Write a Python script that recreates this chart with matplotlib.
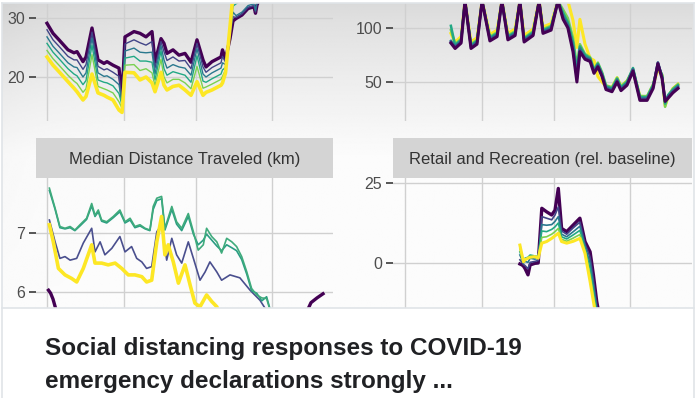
import numpy as np
import matplotlib
matplotlib.use("Agg")
import matplotlib.pyplot as plt
from matplotlib.lines import Line2D

plt.rcParams["font.family"] = ["Liberation Sans", "DejaVu Sans"]

W, H = 700, 398

# viridis steps used for the six groups
purple, blue, teal, green, lgreen, yellow = "#440154", "#414487", "#2A788E", "#22A884", "#7AD151", "#FDE725"

grid_days = [0, 25.5, 49.5, 75]

# ---- top-left panel (title cropped) ----
tl_day = [0, 2, 4, 7, 9, 10, 12, 13, 15, 17, 19, 20, 22, 24, 25, 26, 29, 31, 33, 35, 36, 38,
          39, 40, 42, 44, 46, 48, 50, 52, 53, 55, 58, 58.5, 59.5, 61, 62, 63, 65, 67, 69, 69.5, 70, 72]
tl_p = [29.1, 27.4, 26.3, 24.6, 24.1, 24.3, 22.6, 23.4, 28.3, 22.9, 22.3, 22.6, 22.0, 21.5, 16.6,
        26.8, 27.7, 27.4, 26.8, 27.7, 22.5, 26.5, 25.7, 24.0, 24.6, 23.7, 24.0, 22.5, 26.3, 22.9,
        21.7, 22.6, 23.4, 24.6, 23.0, 26.5, 29.5, 29.9, 30.5, 31.6, 31.9, 30.8, 32.2, 34.5]
tl_b = [28.0, 26.3, 25.2, 23.5, 22.9, 22.9, 21.3, 22.1, 27.6, 21.8, 21.2, 21.4, 20.8, 20.1, 16.1,
        25.6, 26.3, 25.8, 25.4, 26.0, 21.5, 26.0, 24.3, 22.8, 23.4, 22.7, 22.8, 21.4, 25.7, 21.7,
        20.8, 21.6, 22.4, 23.5, 22.5, 27.0, 30.2, 30.1, 30.7, 31.8, 32.1, 31.0, 32.4, 34.7]
tl_t = [26.8, 25.2, 24.1, 22.4, 21.7, 21.6, 20.0, 20.7, 26.6, 20.7, 20.1, 20.2, 19.6, 18.7, 15.6,
        24.4, 24.9, 24.2, 24.1, 24.2, 20.5, 25.3, 22.9, 21.5, 22.1, 21.7, 21.5, 20.3, 24.8, 20.5,
        20.0, 20.7, 21.5, 22.4, 22.1, 27.4, 31.0, 30.4, 31.0, 32.1, 32.4, 31.3, 32.7, 35.0]
tl_g = [25.7, 24.2, 23.1, 21.4, 20.5, 20.2, 18.7, 19.4, 25.4, 19.5, 19.1, 19.0, 18.5, 17.2, 15.2,
        23.2, 23.5, 22.7, 22.7, 22.5, 19.5, 24.4, 21.4, 20.3, 20.9, 20.6, 20.3, 19.1, 23.6, 19.3,
        19.1, 19.7, 20.5, 21.2, 21.6, 27.8, 32.0, 32.4, 33.0, 34.1, 34.4, 33.3, 34.7, 37.0]
tl_lg = [24.5, 23.1, 22.0, 20.3, 19.3, 18.9, 17.4, 18.0, 23.8, 18.4, 18.0, 17.8, 17.3, 15.8, 14.7,
         22.0, 22.1, 21.1, 21.4, 20.7, 18.5, 23.0, 20.0, 19.0, 19.6, 19.6, 19.0, 18.0, 21.8, 18.1,
         18.3, 18.8, 19.6, 20.1, 21.2, 28.2, 33.0, 33.9, 34.5, 35.6, 35.9, 34.8, 36.2, 38.5]
tl_y = [23.4, 22.0, 20.9, 19.2, 18.1, 17.5, 16.1, 16.7, 20.5, 17.3, 16.9, 16.6, 16.1, 14.4, 14.0,
        20.8, 20.7, 19.5, 20.0, 19.0, 17.5, 20.8, 18.6, 17.8, 18.4, 18.6, 17.8, 16.9, 19.2, 16.9,
        17.4, 17.8, 18.6, 19.0, 20.7, 28.5, 34.0, 35.5, 36.5, 37.5, 38.0, 38.0, 38.5, 39.0]

# ---- top-right panel (title cropped) ----
tr_day = [15.3, 16.7, 18.7, 20, 22, 24, 25.7, 28.3, 30.7, 32.3, 34.3, 36.7, 38.3, 39.7, 42.7,
          44.7, 46, 48.7, 51, 52.7, 54.3, 56, 57.3, 58.3, 60, 61.7, 63, 64.3, 65.7, 67, 69,
          70.7, 72, 74, 76, 78.3, 80.7, 82.7, 84.3, 85.7, 86.7, 87.7, 89.3, 91]
tr_p = [86, 81, 86, 125, 81, 85, 125, 88, 92, 125, 89, 93, 125, 87, 93, 125, 95, 98, 125, 108,
        100, 78, 50, 78, 71, 69, 58, 64, 55, 43, 41, 50, 42, 47, 60, 33, 33, 44, 67, 53, 32, 35, 40, 44]
tr_b = [87, 82, 87, 125, 82, 86, 125, 89, 93, 125, 90, 94, 125, 88, 94, 125, 96, 99, 125, 109,
        101, 80, 53, 79, 72, 70, 59, 65, 56, 44, 42, 51, 43, 48, 61, 34, 34, 45, 68, 54, 33, 36, 41, 45]
tr_t = [88, 83, 88, 125, 83, 87, 125, 90, 94, 125, 91, 95, 125, 89, 95, 125, 97, 100, 125, 111,
        103, 83, 57, 81, 73, 71, 60, 66, 57, 45, 43, 52, 44, 49, 62, 35, 35, 46, 68, 55, 33, 37, 42, 46]
tr_g = [102, 84, 89, 125, 84, 88, 125, 91, 95, 125, 92, 96, 125, 90, 96, 125, 98, 101, 125, 114,
        105, 87, 61, 83, 75, 72, 61, 67, 58, 46, 44, 53, 45, 50, 63, 36, 36, 47, 66, 56, 30, 38, 43, 47]
tr_lg = [98, 85, 90, 125, 85, 89, 125, 92, 96, 125, 93, 97, 125, 91, 97, 125, 99, 102, 125, 117,
         109, 91, 65, 85, 76, 73, 62, 68, 59, 47, 45, 54, 46, 51, 62, 37, 37, 48, 64, 57, 27, 37, 44, 48]
tr_y = [95, 87, 92, 125, 87, 91, 125, 94, 98, 125, 95, 99, 125, 93, 99, 125, 101, 104, 125, 125,
        125, 107, 82, 108, 85, 72, 70, 55, 50, 46, 45, 54, 46, 51, 60, 37, 36, 47, 62, 56, 28, 36, 44, 48]

# ---- Median Distance Traveled (km) ----
bl_p_day = [0.5, 1.2, 2, 3, 5, 20, 50, 80, 86, 88, 90, 92]
bl_p = [6.03, 5.98, 5.88, 5.7, 5.45, 5.3, 5.2, 5.3, 5.6, 5.82, 5.9, 5.97]
bl_b_day = [0.8, 2.7, 4.3, 6, 7.7, 9.9, 12.1, 14.9, 16, 17.7, 19.3, 21.6, 24.3, 26, 28.2, 29.9,
            31.6, 33.2, 34.9, 36.6, 38.2, 39.9, 41.6, 43.2, 44.9, 47.1, 48.8, 51, 52.7, 54.3,
            56.6, 58.2, 61, 64.3, 67.7, 71, 73]
bl_b = [7.22, 6.85, 6.57, 6.6, 6.54, 6.57, 6.83, 7.08, 6.68, 6.85, 6.63, 6.74, 6.94, 6.68, 6.77,
        6.57, 6.51, 6.4, 6.43, 7.02, 7.14, 6.54, 6.91, 6.63, 6.49, 6.85, 6.57, 6.2, 6.34, 6.51,
        6.34, 6.2, 6.29, 6.24, 6.03, 5.86, 5.7]
bl_g_day = [0.8, 2.7, 4.3, 6, 7.7, 9.3, 11, 13.2, 14.9, 16, 17.1, 18.2, 19.9, 22.1, 24.3, 26,
            27.7, 29.3, 31, 32.7, 34.3, 35.4, 36.6, 38.2, 39.3, 41.6, 43.2, 44.9, 47.1, 48.8,
            50.4, 52.1, 53.2, 54.9, 56.6, 58.2, 59.9, 61.6, 63.2, 64.9, 66.6, 68.2, 69.9, 71.6, 73.2, 74.3]
bl_t = [7.72, 7.40, 7.09, 7.07, 7.09, 7.04, 7.12, 7.23, 7.46, 7.28, 7.36, 7.20, 7.17, 7.26, 7.36,
        7.17, 7.22, 7.09, 7.12, 7.07, 7.04, 7.40, 7.55, 7.58, 7.05, 7.40, 7.15, 7.04, 7.28, 6.98,
        6.80, 6.88, 6.98, 6.88, 6.78, 6.70, 6.80, 6.75, 6.70, 6.55, 6.30, 6.02, 5.98, 5.85, 5.92, 5.72]
bl_g = [7.76, 7.42, 7.11, 7.08, 7.11, 7.05, 7.14, 7.25, 7.5, 7.3, 7.39, 7.22, 7.19, 7.28, 7.39,
        7.19, 7.25, 7.11, 7.14, 7.08, 7.05, 7.45, 7.59, 7.62, 7.08, 7.45, 7.19, 7.08, 7.33, 7.02,
        6.71, 6.8, 7.08, 6.94, 6.85, 6.66, 6.91, 6.85, 6.77, 6.6, 6.34, 6.06, 5.95, 5.9, 5.89, 5.7]
bl_y_day = [0.8, 2.1, 3.8, 6, 8.2, 9.9, 12.1, 14.9, 16, 18.2, 20.4, 22.7, 24.9, 27.1, 29.3, 31.6,
            33.2, 34.9, 36.6, 38.2, 39.3, 40.4, 42.1, 43.8, 46, 47.7, 49.3, 51, 53.2, 54.9, 56.6, 57.7]
bl_y = [7.14, 6.85, 6.4, 6.29, 6.23, 6.17, 6.4, 6.8, 6.49, 6.49, 6.46, 6.49, 6.4, 6.29, 6.29,
        6.26, 6.17, 6.2, 6.85, 7.28, 6.63, 6.8, 6.51, 6.15, 6.46, 6.12, 5.81, 5.75, 5.95, 5.84, 5.75, 5.6]

# ---- Retail and Recreation (rel. baseline) ----
br_day = [38.3, 39, 39.5, 40, 41, 41.7, 43.3, 44.4, 45.6, 47.2, 48.9, 50, 51.1, 52.2, 53.9,
          56.1, 58.3, 60, 61.7, 62.8, 63.9, 65.5]
br_p = [-0.3, -0.6, -1.0, -1.7, -3.7, -0.6, -0.1, 0.0, 17.1, 16.0, 15.0, 16.5, 23.3, 10.8, 9.8,
        11.9, 14.0, 6.7, 3.5, -3.7, -12, -20]
br_b = [1.0, 0.2, -0.5, -0.8, -1.8, 0.2, 0.5, 0.8, 14.5, 14.0, 13.5, 15.0, 17.5, 10.0, 9.0,
        11.0, 12.8, 6.0, 1.8, -5.3, -13.2, -21]
br_t = [2.5, 1.0, 0.0, 0.5, 0.2, 1.5, 1.2, 1.5, 12.0, 11.8, 12.0, 13.0, 14.5, 9.0, 8.2,
        9.8, 11.5, 5.2, 0.0, -7.0, -14.4, -22]
br_g = [3.5, 1.6, 0.5, 1.5, 1.8, 2.5, 2.2, 2.0, 10.0, 9.8, 10.5, 11.3, 12.5, 8.2, 7.5,
        8.8, 10.2, 4.5, -1.8, -8.6, -15.6, -23]
br_lg = [4.5, 2.0, 0.2, 1.2, 1.6, 2.0, 1.8, 1.7, 8.0, 8.2, 9.0, 9.8, 10.8, 7.4, 6.8,
         7.8, 8.9, 3.8, -3.8, -10.3, -16.8, -24]
br_y = [5.6, 2.5, 0.4, 1.0, 1.5, 1.8, 2.0, 1.5, 6.2, 6.7, 7.7, 8.5, 9.3, 6.7, 6.2,
        6.8, 7.7, 3.0, -5.8, -12, -18, -25]


def box(x0, y0, x1, y1):
    # pixel box (top-left origin) -> figure fraction rect
    return [x0 / W, 1 - y1 / H, (x1 - x0) / W, (y1 - y0) / H]


fig = plt.figure(figsize=(W / 100, H / 100), dpi=100)
fig.patch.set_facecolor("white")

# faded grey wash over the thumbnail area
bg = fig.add_axes(box(2, 3, 694, 308))
rows = np.linspace(0, 1, 200)[:, None]
cols = np.linspace(0, 1, 300)[None, :]
shade = 0.855 + 0.13 * np.clip(rows / 0.5, 0, 1) ** 0.8 - 0.03 * np.exp(-cols / 0.06) * (1 - rows)
bg.imshow(np.clip(shade, 0, 1), cmap="gray", vmin=0, vmax=1, aspect="auto",
          extent=[0, 1, 0, 1], origin="upper", interpolation="bilinear")
bg.set_axis_off()
bg.set_zorder(-5)


def panel(rect, xlim, ylim, yticks):
    ax = fig.add_axes(box(*rect))
    ax.set_facecolor("none")
    ax.set_xlim(*xlim)
    ax.set_ylim(*ylim)
    ax.set_xticks(grid_days)
    ax.set_yticks(yticks)
    ax.grid(True, color="#d0d0d0", lw=1.0)
    ax.set_axisbelow(True)
    ax.tick_params(axis="x", length=0, labelbottom=False)
    ax.tick_params(axis="y", length=5, width=1.4, color="#555555",
                   labelcolor="#4d4d4d", labelsize=11.5, pad=3)
    for s in ax.spines.values():
        s.set_visible(False)
    return ax


def strip(rect, label):
    ax = fig.add_axes(box(*rect))
    ax.set_facecolor("#d4d4d4")
    ax.set_xticks([])
    ax.set_yticks([])
    for s in ax.spines.values():
        s.set_visible(False)
    ax.text(0.5, 0.47, label, ha="center", va="center", fontsize=12, color="#333333",
            transform=ax.transAxes)


xl_left = (-11 / 3, 286 / 3)
xl_right = (-4, 287 / 3)

ax_tl = panel((36, 3, 333, 121), xl_left, (12.54, 32.54), [20, 30])
for vals, c, lw in [(tl_p, purple, 2.4), (tl_b, blue, 1.0), (tl_t, teal, 1.0),
                    (tl_g, green, 1.0), (tl_lg, lgreen, 1.0), (tl_y, yellow, 2.6)]:
    ax_tl.plot(tl_day, vals, color=c, lw=lw, solid_joinstyle="round")

# here the yellow sits underneath the darker bundle
ax_tr = panel((393, 3, 692, 121), xl_right, (13.9, 123.1), [50, 100])
for vals, c, lw, z in [(tr_y, yellow, 2.2, 2), (tr_lg, lgreen, 1.8, 3), (tr_g, green, 1.8, 3),
                       (tr_t, teal, 1.8, 4), (tr_b, blue, 1.8, 5), (tr_p, purple, 2.2, 6)]:
    ax_tr.plot(tr_day, vals, color=c, lw=lw, zorder=z, solid_joinstyle="round")

strip((36, 138, 333, 178), "Median Distance Traveled (km)")
strip((393, 138, 692, 178), "Retail and Recreation (rel. baseline)")

ax_bl = panel((36, 178, 333, 308), xl_left, (5.729, 7.932), [6, 7])
ax_bl.plot(bl_p_day, bl_p, color=purple, lw=2.4)
ax_bl.plot(bl_b_day, bl_b, color="#4a4f8e", lw=1.2)
ax_bl.plot(bl_g_day, bl_t, color="#2a9d83", lw=1.2)
ax_bl.plot(bl_g_day, bl_g, color="#3fab7c", lw=1.2)
ax_bl.plot(bl_y_day, bl_y, color=yellow, lw=2.6)

ax_br = panel((393, 178, 692, 308), xl_right, (-14.06, 26.56), [0, 25])
for vals, c, lw in [(br_p, purple, 2.4), (br_b, blue, 1.2), (br_t, teal, 1.2),
                    (br_g, green, 1.2), (br_lg, lgreen, 1.2), (br_y, yellow, 2.2)]:
    ax_br.plot(br_day, vals, color=c, lw=lw, solid_joinstyle="round")

# card frame
edge = "#e0e4e8"
for xs, ys in [([2, 2], [3, 398]), ([694, 694], [3, 398]), ([2, 694], [3, 3]), ([2, 694], [308, 308])]:
    fig.add_artist(Line2D([x / W for x in xs], [1 - y / H for y in ys],
                          transform=fig.transFigure, color=edge, lw=1.2))

fig.text(45 / W, 1 - 355 / H, "Social distancing responses to COVID-19",
         fontsize=17.5, fontweight="bold", color="#202124", va="baseline")
fig.text(45 / W, 1 - 388 / H, "emergency declarations strongly ...",
         fontsize=17.5, fontweight="bold", color="#202124", va="baseline")

fig.savefig("out.png", dpi=100)
